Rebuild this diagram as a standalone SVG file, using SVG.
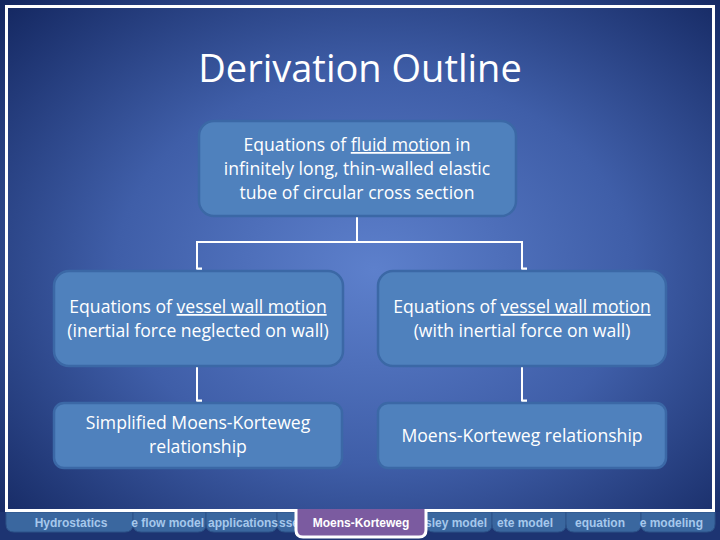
<svg xmlns="http://www.w3.org/2000/svg" width="720" height="540" viewBox="0 0 720 540">
<defs>
<radialGradient id="bg" cx="0.52" cy="0.5" r="0.72">
<stop offset="0" stop-color="#5d80cc"/>
<stop offset="0.5" stop-color="#3f5ea8"/>
<stop offset="1" stop-color="#13265f"/>
</radialGradient>
<marker id="dot" viewBox="0 0 6 6" refX="3" refY="5" markerWidth="6" markerHeight="6" orient="auto" markerUnits="userSpaceOnUse">
<path d="M1.5,0 L4.5,0 L4.5,5 L3,6 L1.5,5 Z" fill="#ffffff"/>
</marker>
</defs>
<style>
.box{fill:#4f81bd;stroke:#3b68a6;stroke-width:2.5}
.t{font-family:"Open Sans","Liberation Sans",Arial,sans-serif;font-size:17.6px;fill:#ffffff;text-anchor:middle}
.u{text-decoration:underline}
.title{font-family:"Open Sans","Liberation Sans",sans-serif;font-size:38px;fill:#ffffff;text-anchor:middle}
.conn{fill:none;stroke:#ffffff;stroke-width:2}
.tab{fill:#3a679f;stroke:#2c5288;stroke-width:1}
.tt{font-family:"Liberation Sans",Arial,sans-serif;font-size:12px;font-weight:bold;fill:#a6c8ec}
</style>
<rect width="720" height="540" fill="url(#bg)"/>
<rect x="0" y="512" width="720" height="28" fill="#1d3472"/>
<g id="tabs">
<path class="tab" d="M6,512 H133 V524 Q133,532 125,532 H14 Q6,532 6,524 Z"/>
<path class="tab" d="M133,512 H206 V524 Q206,532 198,532 H141 Q133,532 133,524 Z"/>
<path class="tab" d="M206,512 H277 V524 Q277,532 269,532 H214 Q206,532 206,524 Z"/>
<path class="tab" d="M277,512 H296 V532 H285 Q277,532 277,524 Z"/>
<path class="tab" d="M426,512 H492 V524 Q492,532 484,532 H434 Q426,532 426,524 Z"/>
<path class="tab" d="M492,512 H566 V524 Q566,532 558,532 H500 Q492,532 492,524 Z"/>
<path class="tab" d="M566,512 H641 V524 Q641,532 633,532 H574 Q566,532 566,524 Z"/>
<path class="tab" d="M641,512 H715 V524 Q715,532 707,532 H649 Q641,532 641,524 Z"/>
<text class="tt" x="71" y="527" text-anchor="middle">Hydrostatics</text>
<text class="tt" x="204" y="527" text-anchor="end">e flow model</text>
<text class="tt" x="208" y="527">applications</text>
<text class="tt" x="279" y="527">sse</text>
<text class="tt" x="487" y="527" text-anchor="end">sley model</text>
<text class="tt" x="553" y="527" text-anchor="end">ete model</text>
<text class="tt" x="575" y="527">equation</text>
<text class="tt" x="703" y="527" text-anchor="end">e modeling</text>
</g>
<rect x="6.5" y="6.5" width="707" height="504" fill="none" stroke="#ffffff" stroke-width="3"/>
<g id="current-tab">
<path d="M296,509 V530 Q296,537 303,537 H419 Q426,537 426,530 V509" fill="#7b5ba0" stroke="#ffffff" stroke-width="3"/>
<text x="361" y="527" text-anchor="middle" font-family="Liberation Sans,Arial,sans-serif" font-size="12" font-weight="bold" fill="#ffffff">Moens-Korteweg</text>
</g>
<text class="title" x="360" y="82">Derivation Outline</text>
<g id="connectors">
<path class="conn" d="M357,217 V242 H197 V269" marker-end="url(#dot)"/>
<path class="conn" d="M357,242 H522 V269" marker-end="url(#dot)"/>
<path class="conn" d="M197,367 V401" marker-end="url(#dot)"/>
<path class="conn" d="M522,367 V401" marker-end="url(#dot)"/>
</g>
<g id="n1">
<rect class="box" x="199" y="121" width="317" height="95" rx="15"/>
<text class="t" x="357" y="151">Equations of <tspan class="u">fluid motion</tspan> in</text>
<text class="t" x="357" y="175">infinitely long, thin-walled elastic</text>
<text class="t" x="357" y="199">tube of circular cross section</text>
</g>
<g id="n2">
<rect class="box" x="54" y="271" width="289" height="95" rx="15"/>
<text class="t" x="198" y="313">Equations of <tspan class="u">vessel wall motion</tspan></text>
<text class="t" x="198" y="337">(inertial force neglected on wall)</text>
</g>
<g id="n3">
<rect class="box" x="378" y="271" width="288" height="95" rx="15"/>
<text class="t" x="522" y="313">Equations of <tspan class="u">vessel wall motion</tspan></text>
<text class="t" x="522" y="337">(with inertial force on wall)</text>
</g>
<g id="n4">
<rect class="box" x="54" y="403" width="288" height="65" rx="10"/>
<text class="t" x="198" y="429">Simplified Moens-Korteweg</text>
<text class="t" x="198" y="453">relationship</text>
</g>
<g id="n5">
<rect class="box" x="378" y="403" width="288" height="65" rx="10"/>
<text class="t" x="522" y="442">Moens-Korteweg relationship</text>
</g>
</svg>
